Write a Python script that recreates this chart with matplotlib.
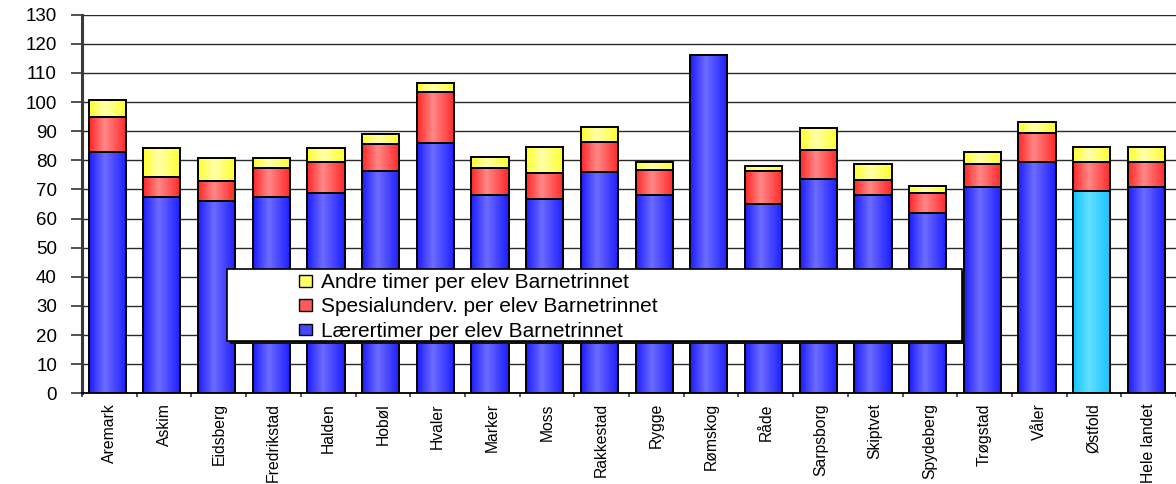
# encoding:utf-8
import matplotlib
matplotlib.use('Agg')
import matplotlib.pyplot as plt
import numpy as np
from matplotlib.colors import LinearSegmentedColormap
from matplotlib.patches import Patch, Rectangle

categories = ['Aremark', 'Askim', 'Eidsberg', 'Fredrikstad', 'Halden', 'Hobøl', 'Hvaler',
              'Marker', 'Moss', 'Rakkestad', 'Rygge', 'Rømskog', 'Råde', 'Sarpsborg',
              'Skiptvet', 'Spydeberg', 'Trøgstad', 'Våler', 'Østfold', 'Hele landet']
laerer = [82.8, 67.3, 66.1, 67.3, 68.7, 76.3, 85.8, 68.1, 66.7, 76.0,
          68.1, 116.2, 64.9, 73.7, 68.1, 62.0, 70.7, 79.3, 69.6, 70.7]
spesial = [12.1, 6.9, 6.8, 10.2, 10.6, 9.3, 17.8, 9.4, 9.1, 10.4,
           8.6, 0.0, 11.4, 9.7, 5.1, 6.9, 7.9, 10.2, 9.7, 8.6]
andre = [5.8, 9.9, 7.8, 3.2, 4.8, 3.3, 3.1, 3.5, 8.8, 5.2,
         2.8, 0.0, 1.8, 7.8, 5.5, 2.4, 4.4, 3.6, 5.2, 5.2]
highlight = 'Østfold'

labels = ['Andre timer per elev Barnetrinnet',
          'Spesialunderv. per elev Barnetrinnet',
          'Lærertimer per elev Barnetrinnet']

plt.rcParams['font.family'] = ['Liberation Sans', 'DejaVu Sans']


def shade(dark, light):
    return LinearSegmentedColormap.from_list('s', [(0, dark), (0.42, light), (1, dark)])


blue = shade('#1c1cff', '#6c6cff')
cyan = shade('#14c4ff', '#62deff')
red = shade('#ff2626', '#ff8888')
yellow = shade('#ffff2c', '#ffffaa')


def shaded_bars(ax, x, heights, bottoms, cmaps, width):
    # gradient fill like the old excel bars, outline drawn on top
    grad = np.linspace(0, 1, 128).reshape(1, -1)
    bars = ax.bar(x, heights, width, bottom=bottoms, facecolor='none',
                  edgecolor='black', linewidth=1.4, zorder=3)
    for rect, cmap in zip(bars, cmaps):
        if rect.get_height() <= 0:
            continue
        x0, y0 = rect.get_x(), rect.get_y()
        ax.imshow(grad, cmap=cmap, aspect='auto', interpolation='bilinear', zorder=2,
                  extent=(x0, x0 + rect.get_width(), y0, y0 + rect.get_height()))


fig = plt.figure(figsize=(11.76, 4.84), dpi=100)
ax = fig.add_axes([82 / 1176, 1 - 393.3 / 484, 1 - 82 / 1176, (393.3 - 14.7) / 484])

x = np.arange(len(categories)) - 0.04
w = 0.68
laerer_a = np.array(laerer)
spesial_a = np.array(spesial)
andre_a = np.array(andre)

shaded_bars(ax, x, laerer_a, 0, [cyan if c == highlight else blue for c in categories], w)
shaded_bars(ax, x, spesial_a, laerer_a, [red] * len(categories), w)
shaded_bars(ax, x, andre_a, laerer_a + spesial_a, [yellow] * len(categories), w)

ax.set_xlim(-0.5, len(categories) - 0.5)
ax.set_ylim(0, 130)

ax.set_axisbelow(True)
ax.yaxis.grid(True, color='#2a2a2a', linewidth=1.0)
ax.set_yticks(range(0, 131, 10))
ax.tick_params(axis='y', length=8, width=1.2, pad=10, labelsize=13.5, color='#333333')

ax.set_xticks(np.arange(-0.5, len(categories), 1))
ax.set_xticklabels([])
ax.tick_params(axis='x', which='major', length=3, width=1.2, color='#333333')
ax.set_xticks(np.arange(len(categories)), minor=True)
ax.set_xticklabels(categories, minor=True, rotation=90, fontsize=11.3)
ax.tick_params(axis='x', which='minor', length=0, pad=7)

for side in ['top', 'right']:
    ax.spines[side].set_visible(False)
ax.spines['left'].set_linewidth(2.2)
ax.spines['left'].set_color('#3a3a3a')
ax.spines['bottom'].set_linewidth(1.3)

# legend box with a hard shadow, drawn on the figure
lx, ly, lw, lh = 227 / 1176, 1 - 341 / 484, (962 - 227) / 1176, 72 / 484
fig.patches.append(Rectangle((lx + 3 / 1176, ly - 3 / 484), lw, lh, transform=fig.transFigure,
                             facecolor='#111111', edgecolor='none', zorder=5))
fig.patches.append(Rectangle((lx, ly), lw, lh, transform=fig.transFigure,
                             facecolor='white', edgecolor='black', linewidth=1.2, zorder=5))
handles = [Patch(facecolor='#ffff66', edgecolor='black', linewidth=1.0),
           Patch(facecolor='#ff5a5a', edgecolor='black', linewidth=1.0),
           Patch(facecolor='#4646ff', edgecolor='black', linewidth=1.0)]
fig.legend(handles, labels, loc='upper left', bbox_to_anchor=(299 / 1176, 1 - 273 / 484),
           frameon=False, fontsize=15, borderpad=0, borderaxespad=0,
           handlelength=0.62, handleheight=0.5, handletextpad=0.42, labelspacing=0.26)

fig.savefig('out.png', dpi=100, facecolor='white')
